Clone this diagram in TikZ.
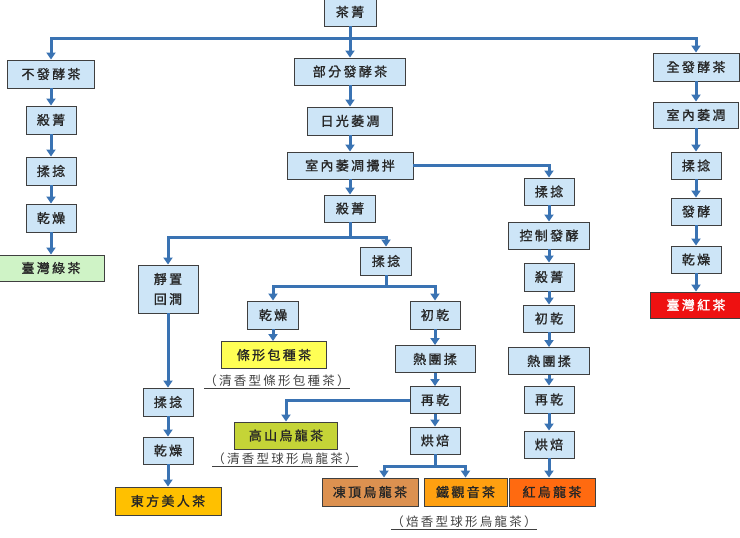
\documentclass[tikz,border=0pt]{standalone}
\usepackage{fontspec}
\newfontfamily\cjk[LetterSpace=18]{Noto Sans CJK TC}
\newfontfamily\cjkbox[LetterSpace=18,FakeBold=1.2]{Noto Sans CJK TC}
\usetikzlibrary{arrows.meta}

\definecolor{procblue}{HTML}{CDE5F7}
\definecolor{boxline}{HTML}{3F3F3F}
\definecolor{flowblue}{HTML}{3A73B3}
\definecolor{greentea}{HTML}{CFF3C6}
\definecolor{baozhong}{HTML}{FFFF55}
\definecolor{gaoshan}{HTML}{C5D437}
\definecolor{dongding}{HTML}{DC9150}
\definecolor{tieguanyin}{HTML}{FFA010}
\definecolor{redoolong}{HTML}{FF6A10}
\definecolor{oriental}{HTML}{FFC000}
\definecolor{blacktea}{HTML}{EE1111}

\begin{document}
\begin{tikzpicture}[x=1pt,y=-1pt,
    proc/.style={draw=boxline, line width=0.9pt, fill=procblue, minimum height=27pt,
        inner sep=0pt, text=black!85, font=\cjkbox\fontsize{13}{20}\selectfont},
    flow/.style={draw=flowblue, line width=3pt, -{Triangle[width=9pt,length=7pt]}},
    joint/.style={draw=flowblue, line width=3pt},
    note/.style={inner sep=1pt, text=black!75, font=\cjk\fontsize{12.5}{15}\selectfont}]

    \useasboundingbox (0,0) rectangle (740,538);

%Top

    \node[proc, minimum width=52pt, minimum height=28pt] (tea) at (350,12) {茶菁};
    \coordinate (s0) at (350,38);

%Left column

    \node[proc, minimum width=87pt, minimum height=28pt] (nonf) at (51,74) {不發酵茶};
    \node[proc, minimum width=50pt, minimum height=28pt] (kill1) at (51,120) {殺菁};
    \node[proc, minimum width=50pt, minimum height=28pt] (roll1) at (51,171) {揉捻};
    \node[proc, minimum width=50pt, minimum height=28pt] (dry1) at (51,218) {乾燥};
    \node[proc, minimum width=106pt, minimum height=26pt, fill=greentea] (green) at (51,268) {臺灣綠茶};

%Middle column

    \node[proc, minimum width=111pt] (partial) at (350,71.5) {部分發酵茶};
    \node[proc, minimum width=85pt, minimum height=28pt] (sun) at (350,121) {日光萎凋};
    \node[proc, minimum width=126pt] (indoor) at (350,165.5) {室內萎凋攪拌};
    \node[proc, minimum width=51pt] (kill2) at (350,208.5) {殺菁};
    \coordinate (s1) at (350,237);

    \node[proc, minimum width=60pt, minimum height=48pt, align=center] (rest) at (168,289) {靜置\\回潤};
    \node[proc, minimum width=50pt, minimum height=28pt] (roll5) at (168,402) {揉捻};
    \node[proc, minimum width=50pt] (dry5) at (168,450.5) {乾燥};
    \node[proc, minimum width=106pt, minimum height=28pt, fill=oriental] (oriental) at (168,501) {東方美人茶};

    \node[proc, minimum width=51pt, minimum height=28pt] (roll2) at (386,261) {揉捻};
    \coordinate (s2) at (386,286);

    \node[proc, minimum width=51pt, minimum height=28pt] (dry2) at (273,315) {乾燥};
    \node[proc, minimum width=105pt, fill=baozhong] (bao) at (274,355) {條形包種茶};
    \node[note] (note1) at (277,382) {\underline{（清香型條形包種茶）}};

    \node[proc, minimum width=50pt, minimum height=28pt] (fdry) at (435,315) {初乾};
    \node[proc, minimum width=80pt] (ball) at (435,359) {熱團揉};
    \node[proc, minimum width=50pt] (redry) at (435,400) {再乾};
    \node[proc, minimum width=103pt, fill=gaoshan] (gao) at (286,435.5) {高山烏龍茶};
    \node[note] (note2) at (285,460) {\underline{（清香型球形烏龍茶）}};
    \node[proc, minimum width=50pt] (bake) at (435,440.5) {烘焙};
    \coordinate (s3) at (435,466);

    \node[proc, minimum width=96pt, minimum height=28pt, fill=dongding] (dong) at (370,492) {凍頂烏龍茶};
    \node[proc, minimum width=83pt, minimum height=28pt, fill=tieguanyin] (tie) at (465.5,492) {鐵觀音茶};
    \node[proc, minimum width=86pt, minimum height=28pt, fill=redoolong] (redool) at (552,492) {紅烏龍茶};
    \node[note] (note3) at (464,523) {\underline{（焙香型球形烏龍茶）}};

%Right middle column

    \node[proc, minimum width=50pt] (roll3) at (549,191.5) {揉捻};
    \node[proc, minimum width=81pt] (ferm) at (549,235.5) {控制發酵};
    \node[proc, minimum width=50pt, minimum height=28pt] (kill3) at (549,277) {殺菁};
    \node[proc, minimum width=51pt] (fdry3) at (549,318.5) {初乾};
    \node[proc, minimum width=81pt] (ball3) at (549,361) {熱團揉};
    \node[proc, minimum width=50pt] (redry3) at (549,399.5) {再乾};
    \node[proc, minimum width=50pt] (bake3) at (549,444.5) {烘焙};

%Right column

    \node[proc, minimum width=86pt, minimum height=28pt] (full) at (696,67) {全發酵茶};
    \node[proc, minimum width=85pt, minimum height=26pt] (indoor2) at (696,115) {室內萎凋};
    \node[proc, minimum width=50pt] (roll4) at (696,165.5) {揉捻};
    \node[proc, minimum width=50pt] (ferm4) at (696,211.5) {發酵};
    \node[proc, minimum width=50pt] (dry4) at (696,259.5) {乾燥};
    \node[proc, minimum width=92pt, minimum height=26pt, fill=blacktea, text=white] (black) at (696,305) {臺灣紅茶};

%Connectors

    \draw[joint] (tea.south) -- (s0);
    \draw[flow] (s0) -| (nonf.north);
    \draw[flow] (s0) -- (partial.north);
    \draw[flow] (s0) -| (full.north);

    \draw[flow] (nonf) -- (kill1);
    \draw[flow] (kill1) -- (roll1);
    \draw[flow] (roll1) -- (dry1);
    \draw[flow] (dry1) -- (green);

    \draw[flow] (partial) -- (sun);
    \draw[flow] (sun) -- (indoor);
    \draw[flow] (indoor) -- (kill2);
    \draw[flow] (indoor.east) -| (roll3.north);

    \draw[joint] (kill2.south) -- (s1);
    \draw[flow] (s1) -| (rest.north);
    \draw[flow] (s1) -| (roll2.north);
    \draw[flow] (rest) -- (roll5);
    \draw[flow] (roll5) -- (dry5);
    \draw[flow] (dry5) -- (oriental);

    \draw[joint] (roll2.south) -- (s2);
    \draw[flow] (s2) -| (dry2.north);
    \draw[flow] (s2) -| (fdry.north);
    \draw[flow] (dry2) -- (dry2 |- bao.north);
    \draw[flow] (fdry) -- (ball);
    \draw[flow] (ball) -- (redry);
    \draw[flow] (redry.west) -| (gao.north);
    \draw[flow] (redry) -- (bake);
    \draw[joint] (bake.south) -- (s3);
    \draw[flow] (s3) -| ([xshift=14pt]dong.north);
    \draw[flow] (s3) -| (tie.north);

    \draw[flow] (roll3) -- (ferm);
    \draw[flow] (ferm) -- (kill3);
    \draw[flow] (kill3) -- (fdry3);
    \draw[flow] (fdry3) -- (ball3);
    \draw[flow] (ball3) -- (redry3);
    \draw[flow] (redry3) -- (bake3);
    \draw[flow] (bake3) -- (bake3 |- redool.north);

    \draw[flow] (full) -- (indoor2);
    \draw[flow] (indoor2) -- (roll4);
    \draw[flow] (roll4) -- (ferm4);
    \draw[flow] (ferm4) -- (dry4);
    \draw[flow] (dry4) -- (black);

\end{tikzpicture}
\end{document}
